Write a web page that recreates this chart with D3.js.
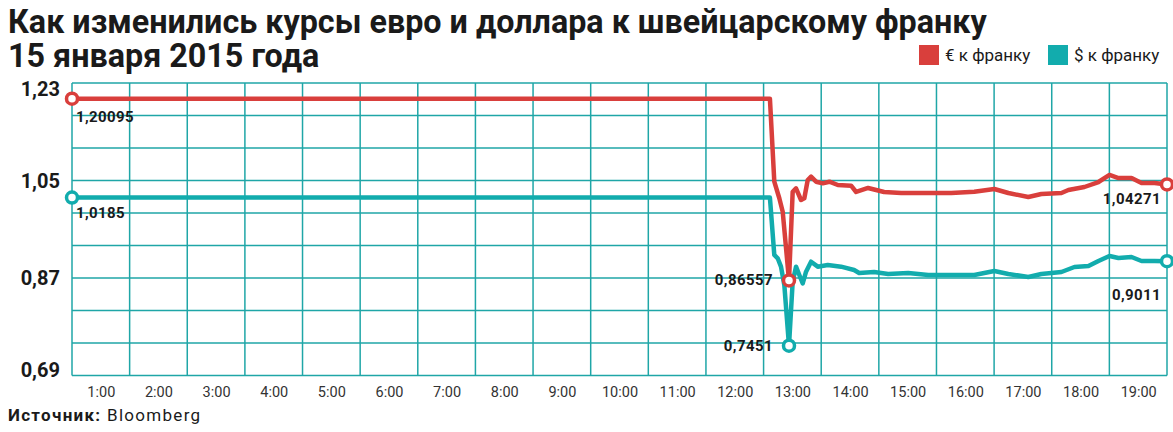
<!DOCTYPE html>
<html>
<head>
<meta charset="utf-8">
<script src="https://cdn.jsdelivr.net/npm/d3@7"></script>
<style>
  body { margin: 0; background: #fff; }
  svg text { font-family: Roboto, "Open Sans", sans-serif; fill: #1a1a1a; }
  .title { font-size: 32.3px; font-weight: 700; }
  .tick-y { font-size: 20px; font-weight: 700; }
  .axis text { font-size: 14.5px; fill: #333; }
  .note { font-size: 15px; font-weight: 700; letter-spacing: 0.4px; }
  .legend text { font-size: 17px; }
</style>
</head>
<body>
<script>
const outerWidth = 1173;
const outerHeight = 432;
const margin = { top: 83, right: 6, bottom: 56.5, left: 72 };
const innerWidth = outerWidth - margin.left - margin.right;
const innerHeight = outerHeight - margin.top - margin.bottom;

// hours of the day (cell centre = label)
const eurTimes = [0.5, 12.61, 12.686, 12.773, 12.832, 12.941, 13.005, 13.063, 13.15, 13.207, 13.266, 13.324,
  13.411, 13.527, 13.642, 13.788, 14.019, 14.106, 14.314, 14.592, 14.887, 15.183, 15.461, 15.756, 16.156,
  16.504, 16.747, 17.094, 17.32, 17.668, 17.789, 18.067, 18.311, 18.502, 18.658, 18.884, 19.058, 19.284, 19.5];
const eurValues = [1.20095, 1.20095, 1.0478, 1.0172, 0.9924, 0.86557, 1.0293, 1.0356, 1.014, 1.0172, 1.0509, 1.057,
  1.0478, 1.0448, 1.0478, 1.0417, 1.0404, 1.0288, 1.0362, 1.0288, 1.0269, 1.0269, 1.0269, 1.0269, 1.0293,
  1.0343, 1.0269, 1.0196, 1.0251, 1.0269, 1.0325, 1.038, 1.0472, 1.0602, 1.0546, 1.0546, 1.0454, 1.0454, 1.04271];

const usdTimes = [0.5, 12.61, 12.686, 12.745, 12.802, 12.86, 12.941, 13.005, 13.063, 13.12, 13.179, 13.237, 13.324,
  13.44, 13.614, 13.845, 14.071, 14.158, 14.418, 14.662, 15.009, 15.357, 15.756, 16.156, 16.504, 16.747, 17.094,
  17.32, 17.668, 17.893, 18.137, 18.311, 18.502, 18.658, 18.884, 19.058, 19.284, 19.5];
const usdValues = [1.0185, 1.0185, 0.9125, 0.9064, 0.8909, 0.8571, 0.7451, 0.8632, 0.8909, 0.8756, 0.8602, 0.8817, 0.9001,
  0.8909, 0.894, 0.8909, 0.8848, 0.8793, 0.8811, 0.8774, 0.8793, 0.8756, 0.8756, 0.8756, 0.8829, 0.8774, 0.8719,
  0.8774, 0.8811, 0.8903, 0.8922, 0.9014, 0.9106, 0.9069, 0.9088, 0.9014, 0.9014, 0.9011];

const hourTicks = d3.range(1, 20);
const yLabels = [0.69, 0.87, 1.05, 1.23];
const yGrid = d3.range(10).map(i => 0.69 + i * 0.06);

// circled points with their labels
const eurMarks = [
  { t: 0.5, v: 1.20095, text: '1,20095' },
  { t: 12.941, v: 0.86557, text: '0,86557' },
  { t: 19.5, v: 1.04271, text: '1,04271' }
];
const usdMarks = [
  { t: 0.5, v: 1.0185, text: '1,0185' },
  { t: 12.941, v: 0.7451, text: '0,7451' },
  { t: 19.5, v: 0.9011, text: '0,9011' }
];

const red = '#d93f3c';
const teal = '#12acad';
const gridColor = '#1fa6a7';

const fmt = v => v.toFixed(2).replace('.', ',');

const svg = d3.select('body').append('svg')
    .attr('width', outerWidth)
    .attr('height', outerHeight);

// title
svg.append('text').attr('class', 'title').attr('x', 8).attr('y', 33)
  .text('Как изменились курсы евро и доллара к швейцарскому франку');
svg.append('text').attr('class', 'title').attr('x', 8).attr('y', 67)
  .text('15 января 2015 года');

// legend
const legend = svg.append('g').attr('class', 'legend')
  .attr('transform', 'translate(919,45)');
[{ c: red, t: '€ к франку', x: 0 }, { c: teal, t: '$ к франку', x: 129 }].forEach(d => {
  legend.append('rect').attr('x', d.x).attr('y', 0).attr('width', 20).attr('height', 20).attr('fill', d.c);
  legend.append('text').attr('x', d.x + 26).attr('y', 16).text(d.t);
});

const g = svg.append('g')
    .attr('transform', `translate(${margin.left},${margin.top})`);

const xScale = d3.scaleLinear().domain([0.5, 19.5]).range([0, innerWidth]);
const yScale = d3.scaleLinear().domain([0.69, 1.23]).range([innerHeight, 0]);

// grid
g.append('g').selectAll('line')
    .data(yGrid)
    .enter().append('line')
    .attr('x1', 0).attr('x2', innerWidth)
    .attr('y1', d => yScale(d)).attr('y2', d => yScale(d))
    .attr('stroke', gridColor).attr('stroke-width', 1.5);
g.append('g').selectAll('line')
    .data(d3.range(20).map(i => 0.5 + i))
    .enter().append('line')
    .attr('y1', 0).attr('y2', innerHeight)
    .attr('x1', d => xScale(d)).attr('x2', d => xScale(d))
    .attr('stroke', gridColor).attr('stroke-width', 1.5);

// x axis
const xAxis = d3.axisBottom(xScale)
    .tickValues(hourTicks)
    .tickSize(0)
    .tickPadding(11)
    .tickFormat(d => d + ':00');
g.append('g').attr('class', 'axis')
    .attr('transform', `translate(0,${innerHeight})`)
    .call(xAxis)
    .attr('font-family', null)
    .attr('font-size', null)
    .call(a => a.select('.domain').remove());

// y labels (clamped inside the plot like the original)
g.append('g').selectAll('text')
    .data(yLabels)
    .enter().append('text')
    .attr('class', 'tick-y')
    .attr('text-anchor', 'end')
    .attr('x', -12)
    .attr('y', d => Math.min(Math.max(yScale(d), 5.5), innerHeight - 5.5) + 7)
    .text(fmt);

// lines
const line = d3.line()
    .x(d => xScale(d[0]))
    .y(d => yScale(d[1]));

g.append('path')
    .datum(d3.zip(usdTimes, usdValues))
    .attr('fill', 'none').attr('stroke', teal)
    .attr('stroke-width', 4.5).attr('stroke-linejoin', 'round')
    .attr('d', line);
g.append('path')
    .datum(d3.zip(eurTimes, eurValues))
    .attr('fill', 'none').attr('stroke', red)
    .attr('stroke-width', 4.5).attr('stroke-linejoin', 'round')
    .attr('d', line);

function drawMarks(marks, color, labelPos) {
  g.append('g').selectAll('circle')
      .data(marks)
      .enter().append('circle')
      .attr('cx', d => xScale(d.t))
      .attr('cy', d => yScale(d.v))
      .attr('r', 5.5)
      .attr('fill', '#fff')
      .attr('stroke', color)
      .attr('stroke-width', 3.5);
  g.append('g').selectAll('text')
      .data(marks)
      .enter().append('text')
      .attr('class', 'note')
      .attr('text-anchor', (d, i) => labelPos[i].anchor)
      .attr('x', (d, i) => xScale(d.t) + labelPos[i].dx)
      .attr('y', (d, i) => yScale(d.v) + labelPos[i].dy)
      .text(d => d.text);
}

drawMarks(eurMarks, red, [
  { anchor: 'start', dx: 4, dy: 23 },
  { anchor: 'end', dx: -16, dy: 5 },
  { anchor: 'end', dx: -6, dy: 20 }
]);
drawMarks(usdMarks, teal, [
  { anchor: 'start', dx: 4, dy: 20 },
  { anchor: 'end', dx: -16, dy: 5 },
  { anchor: 'end', dx: -6, dy: 39 }
]);

// source
const src = svg.append('text')
    .attr('x', 8).attr('y', 421)
    .attr('font-size', '17px')
    .attr('letter-spacing', '1.3px');
src.append('tspan').attr('font-weight', 700).text('Источник: ');
src.append('tspan').text('Bloomberg');
</script>
</body>
</html>
